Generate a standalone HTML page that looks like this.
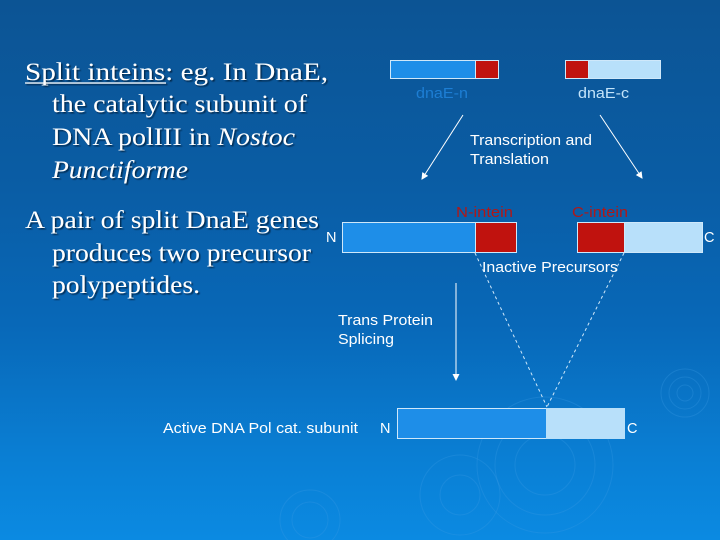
<!DOCTYPE html>
<html><head><meta charset="utf-8"><style>
html,body{margin:0;padding:0;width:720px;height:540px;overflow:hidden}
body{position:relative;background:linear-gradient(#0c5494 0%,#0a5da5 35%,#0868b8 60%,#0a7fd4 85%,#0b8ae2 100%)}
svg{position:absolute;left:0;top:0;display:block}
.s{font-family:"Liberation Serif",serif;font-size:25px;fill:#fff}
.a{font-family:"Liberation Sans",sans-serif;font-size:14.5px;fill:#fff}
</style></head><body>
<svg width="720" height="540" viewBox="0 0 720 540">
<defs>
<filter id="sh"><feDropShadow dx="1.5" dy="1.5" stdDeviation="0.5" flood-color="#002040" flood-opacity="0.8"/></filter>
<marker id="ar" markerWidth="8" markerHeight="8" refX="6" refY="4" orient="auto" markerUnits="userSpaceOnUse"><path d="M0,0.5 L7,4 L0,7.5z" fill="#fff"/></marker>
</defs>
<g fill="none" stroke="#3a9ae6" stroke-opacity="0.3">
<circle cx="685" cy="393" r="8"/><circle cx="685" cy="393" r="16"/><circle cx="685" cy="393" r="24"/>
<circle cx="545" cy="465" r="30"/><circle cx="545" cy="465" r="50"/><circle cx="545" cy="465" r="68"/>
<circle cx="460" cy="495" r="20"/><circle cx="460" cy="495" r="40"/>
<circle cx="310" cy="520" r="18"/><circle cx="310" cy="520" r="30"/>
</g>
<g filter="url(#sh)">
<text x="25" y="80" class="s" textLength="303" lengthAdjust="spacingAndGlyphs">Split inteins: eg. In DnaE,</text>
<text x="52" y="112" class="s" textLength="255" lengthAdjust="spacingAndGlyphs">the catalytic subunit of</text>
<text x="52" y="145" class="s" textLength="243" lengthAdjust="spacingAndGlyphs">DNA polIII in <tspan font-style="italic">Nostoc</tspan></text>
<text x="52" y="178" class="s" font-style="italic" textLength="136" lengthAdjust="spacingAndGlyphs">Punctiforme</text>
<text x="25" y="228" class="s" textLength="294" lengthAdjust="spacingAndGlyphs">A pair of split DnaE genes</text>
<text x="52" y="261" class="s" textLength="259" lengthAdjust="spacingAndGlyphs">produces two precursor</text>
<text x="52" y="293" class="s" textLength="148" lengthAdjust="spacingAndGlyphs">polypeptides.</text>
<line x1="25" y1="83" x2="166" y2="83" stroke="#fff" stroke-width="1.2"/>
</g>
<rect x="390.5" y="60.5" width="85" height="18" fill="#1e8ee8" stroke="#cfe8fa"/>
<rect x="475.5" y="60.5" width="23" height="18" fill="#c0120e" stroke="#cfe8fa"/>
<rect x="565.5" y="60.5" width="23" height="18" fill="#c0120e" stroke="#cfe8fa"/>
<rect x="588.5" y="60.5" width="72" height="18" fill="#b8e0fa" stroke="#cfe8fa"/>
<g lengthAdjust="spacingAndGlyphs">
<text x="416" y="98" class="a" style="fill:#1d7ed4" textLength="52" lengthAdjust="spacingAndGlyphs">dnaE-n</text>
<text x="578" y="98" class="a" style="fill:#c4e4fa" textLength="51" lengthAdjust="spacingAndGlyphs">dnaE-c</text>
<text x="470" y="145" class="a" textLength="122" lengthAdjust="spacingAndGlyphs">Transcription and</text>
<text x="470" y="164" class="a" textLength="79" lengthAdjust="spacingAndGlyphs">Translation</text>
<text x="456" y="217" class="a" style="fill:#b01818" textLength="57" lengthAdjust="spacingAndGlyphs">N-intein</text>
<text x="572" y="217" class="a" style="fill:#b01818" textLength="56" lengthAdjust="spacingAndGlyphs">C-intein</text>
<text x="482" y="272" class="a" textLength="136" lengthAdjust="spacingAndGlyphs">Inactive Precursors</text>
<text x="338" y="325" class="a" textLength="95" lengthAdjust="spacingAndGlyphs">Trans Protein</text>
<text x="338" y="344" class="a" textLength="56" lengthAdjust="spacingAndGlyphs">Splicing</text>
<text x="163" y="433" class="a" textLength="195" lengthAdjust="spacingAndGlyphs">Active DNA Pol cat. subunit</text>
</g>
<line x1="463" y1="115" x2="422" y2="179" stroke="#fff" marker-end="url(#ar)"/>
<line x1="600" y1="115" x2="642" y2="178" stroke="#fff" marker-end="url(#ar)"/>
<text x="326" y="242" class="a">N</text>
<rect x="342.5" y="222.5" width="133" height="30" fill="#1e8ee8" stroke="#cfe8fa"/>
<rect x="475.5" y="222.5" width="41" height="30" fill="#c0120e" stroke="#cfe8fa"/>
<rect x="577.5" y="222.5" width="47" height="30" fill="#c0120e" stroke="#cfe8fa"/>
<rect x="624.5" y="222.5" width="78" height="30" fill="#b8e0fa" stroke="#cfe8fa"/>
<text x="704" y="242" class="a">C</text>
<line x1="475" y1="253" x2="547" y2="407" stroke="#cfe8fa" stroke-dasharray="3,3"/>
<line x1="624" y1="253" x2="547" y2="407" stroke="#cfe8fa" stroke-dasharray="3,3"/>
<line x1="456" y1="283" x2="456" y2="380" stroke="#fff" marker-end="url(#ar)"/>
<text x="380" y="433" class="a">N</text>
<rect x="397.5" y="408.5" width="149" height="30" fill="#1e8ee8" stroke="#cfe8fa"/>
<rect x="546.5" y="408.5" width="78" height="30" fill="#b8e0fa" stroke="#b8e0fa"/>
<text x="627" y="433" class="a">C</text>
</svg>
</body></html>
